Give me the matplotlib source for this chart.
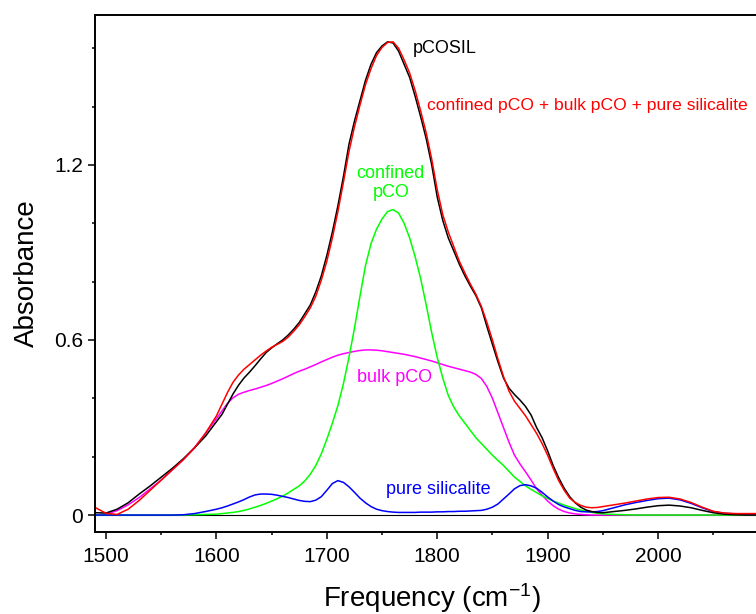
import numpy as np
import matplotlib.pyplot as plt

plt.rcParams['font.family'] = ['Liberation Sans', 'DejaVu Sans']
plt.rcParams['mathtext.fontset'] = 'custom'
plt.rcParams['mathtext.rm'] = 'Liberation Sans'
plt.rcParams['mathtext.it'] = 'Liberation Sans:italic'

# wavenumber grid (cm-1): coarse at the ends, 5 cm-1 steps across the band
freq = np.concatenate([np.arange(1490, 1601, 10),
                       np.arange(1605, 1951, 5),
                       np.arange(1960, 2091, 10)])

# measured spectrum of pCOSIL
pcosil = [0.008, 0.007, 0.020, 0.042, 0.072, 0.100, 0.130, 0.160, 0.193, 0.230, 0.270, 0.320,
          0.345, 0.380, 0.415, 0.445, 0.470, 0.490, 0.512, 0.535, 0.557, 0.573,
          0.587, 0.600, 0.617, 0.637, 0.660, 0.690, 0.720, 0.765, 0.820, 0.890,
          0.970, 1.060, 1.160, 1.270, 1.350, 1.420, 1.490, 1.545, 1.585, 1.608,
          1.622, 1.618, 1.590, 1.545, 1.500, 1.435, 1.365, 1.290, 1.200, 1.090,
          1.010, 0.950, 0.905, 0.860, 0.820, 0.785, 0.752, 0.710, 0.646, 0.585,
          0.525, 0.470, 0.435, 0.413, 0.394, 0.372, 0.343, 0.300, 0.265, 0.220,
          0.170, 0.128, 0.092, 0.063, 0.042, 0.027, 0.017, 0.012, 0.009, 0.008,
          0.012, 0.016, 0.021, 0.027, 0.032, 0.034, 0.031, 0.025, 0.016, 0.008, 0.003, 0.001, 0.000, 0.000]

# sum of the three components
fit_sum = [0.026, 0.006, 0.002, 0.020, 0.050, 0.085, 0.120, 0.155, 0.190, 0.230, 0.280, 0.340,
           0.380, 0.420, 0.455, 0.480, 0.500, 0.516, 0.532, 0.548, 0.562, 0.575,
           0.585, 0.595, 0.610, 0.630, 0.652, 0.680, 0.710, 0.750, 0.805, 0.870,
           0.950, 1.040, 1.140, 1.245, 1.330, 1.405, 1.475, 1.530, 1.575, 1.603,
           1.620, 1.622, 1.600, 1.560, 1.515, 1.455, 1.385, 1.310, 1.220, 1.115,
           1.030, 0.970, 0.920, 0.870, 0.830, 0.792, 0.757, 0.715, 0.660, 0.600,
           0.535, 0.475, 0.425, 0.390, 0.365, 0.340, 0.310, 0.280, 0.245, 0.205,
           0.160, 0.118, 0.085, 0.058, 0.043, 0.033, 0.027, 0.025, 0.026, 0.029,
           0.035, 0.041, 0.048, 0.055, 0.060, 0.061, 0.055, 0.043, 0.027, 0.013, 0.007, 0.005, 0.005, 0.005]

confined = [0.000, 0.000, 0.000, 0.000, 0.000, 0.000, 0.000, 0.000, 0.000, 0.001, 0.002, 0.003,
            0.005, 0.007, 0.009, 0.012, 0.016, 0.021, 0.027, 0.033, 0.040, 0.048,
            0.056, 0.065, 0.076, 0.088, 0.100, 0.117, 0.140, 0.170, 0.210, 0.260,
            0.315, 0.375, 0.450, 0.540, 0.640, 0.750, 0.855, 0.930, 0.980, 1.015,
            1.040, 1.047, 1.035, 1.000, 0.950, 0.885, 0.810, 0.720, 0.625, 0.540,
            0.470, 0.410, 0.370, 0.340, 0.315, 0.290, 0.265, 0.245, 0.225, 0.205,
            0.187, 0.170, 0.150, 0.130, 0.115, 0.100, 0.088, 0.077, 0.066, 0.057,
            0.048, 0.041, 0.034, 0.028, 0.022, 0.017, 0.013, 0.009, 0.006, 0.004,
            0.002, 0.001, 0.000, 0.000, 0.000, 0.000, 0.000, 0.000, 0.000, 0.000, 0.000, 0.000, 0.000, 0.000]

bulk = [0.000, 0.003, 0.015, 0.035, 0.060, 0.090, 0.120, 0.155, 0.190, 0.230, 0.280, 0.330,
        0.357, 0.383, 0.402, 0.414, 0.421, 0.427, 0.432, 0.438, 0.444, 0.451,
        0.459, 0.467, 0.476, 0.485, 0.493, 0.500, 0.508, 0.516, 0.525, 0.533,
        0.541, 0.548, 0.553, 0.557, 0.561, 0.564, 0.566, 0.566, 0.565, 0.563,
        0.560, 0.557, 0.554, 0.551, 0.547, 0.543, 0.538, 0.533, 0.528, 0.522,
        0.516, 0.510, 0.505, 0.500, 0.495, 0.490, 0.482, 0.468, 0.440, 0.400,
        0.350, 0.300, 0.250, 0.205, 0.175, 0.148, 0.120, 0.090, 0.068, 0.048,
        0.032, 0.020, 0.012, 0.007, 0.004, 0.002, 0.001, 0.000, 0.000, 0.000,
        0.000, 0.000, 0.000, 0.000, 0.000, 0.000, 0.000, 0.000, 0.000, 0.000, 0.000, 0.000, 0.000, 0.000]

silicalite = [0.000, 0.000, 0.000, 0.000, 0.000, 0.000, 0.000, 0.000, 0.001, 0.005, 0.012, 0.020,
              0.025, 0.031, 0.038, 0.045, 0.053, 0.062, 0.069, 0.072, 0.072, 0.071,
              0.068, 0.064, 0.060, 0.055, 0.050, 0.047, 0.046, 0.051, 0.063, 0.085,
              0.108, 0.118, 0.112, 0.097, 0.078, 0.058, 0.042, 0.029, 0.020, 0.015,
              0.012, 0.010, 0.009, 0.009, 0.009, 0.009, 0.010, 0.010, 0.010, 0.011,
              0.011, 0.012, 0.012, 0.013, 0.013, 0.014, 0.015, 0.016, 0.020, 0.027,
              0.038, 0.055, 0.072, 0.090, 0.101, 0.104, 0.100, 0.092, 0.078, 0.062,
              0.048, 0.036, 0.028, 0.022, 0.016, 0.012, 0.011, 0.011, 0.012, 0.015,
              0.025, 0.035, 0.043, 0.050, 0.056, 0.058, 0.052, 0.040, 0.025, 0.012, 0.006, 0.004, 0.003, 0.003]

fig = plt.figure(figsize=(7.56, 6.14), dpi=100)
ax = fig.add_axes([0.1257, 0.1336, 0.8907, 0.842])

ax.axhline(0, color='black', lw=0.8, zorder=1)
ax.plot(freq, bulk, color='#ff00ff', lw=1.1)
ax.plot(freq, confined, color='#00ff00', lw=1.1)
ax.plot(freq, silicalite, color='#0000ff', lw=1.1)
ax.plot(freq, pcosil, color='black', lw=1.1)
ax.plot(freq, fit_sum, color='#ff0000', lw=1.1)

ax.text(1778, 1.598, 'pCOSIL', color='black', fontsize=13, va='center')
ax.text(1790.5, 1.405, 'confined pCO + bulk pCO + pure silicalite',
        color='#ff0000', fontsize=12.6, va='center', clip_on=False)
ax.text(1758, 1.138, 'confined\npCO', color='#00ff00', fontsize=13,
        ha='center', va='center', linespacing=1.2)
ax.text(1761, 0.473, 'bulk pCO', color='#ff00ff', fontsize=13,
        ha='center', va='center')
ax.text(1801, 0.088, 'pure silicalite', color='#0000ff', fontsize=13,
        ha='center', va='center')

ax.set_xlim(1490, 2100)
ax.set_ylim(-0.058, 1.714)
ax.set_xticks(np.arange(1500, 2001, 100))
ax.set_xticks(np.arange(1550, 2100, 50), minor=True)
ax.set_yticks([0, 0.6, 1.2])
ax.set_yticklabels(['0', '0.6', '1.2'])
ax.set_yticks([0.2, 0.4, 0.8, 1.0, 1.4, 1.6], minor=True)
ax.tick_params(which='major', direction='out', length=5, width=1.1, labelsize=15)
ax.tick_params(axis='x', which='major', pad=6)
ax.tick_params(which='minor', direction='out', length=2.5, width=1.1)
for side in ['left', 'bottom', 'top']:
    ax.spines[side].set_linewidth(1.4)
ax.spines['right'].set_visible(False)

ax.set_xlabel('Frequency (cm$^{-1}$)', fontsize=20, labelpad=11)
ax.set_ylabel('Absorbance', fontsize=20, labelpad=10)

fig.savefig('out.png', dpi=100)
